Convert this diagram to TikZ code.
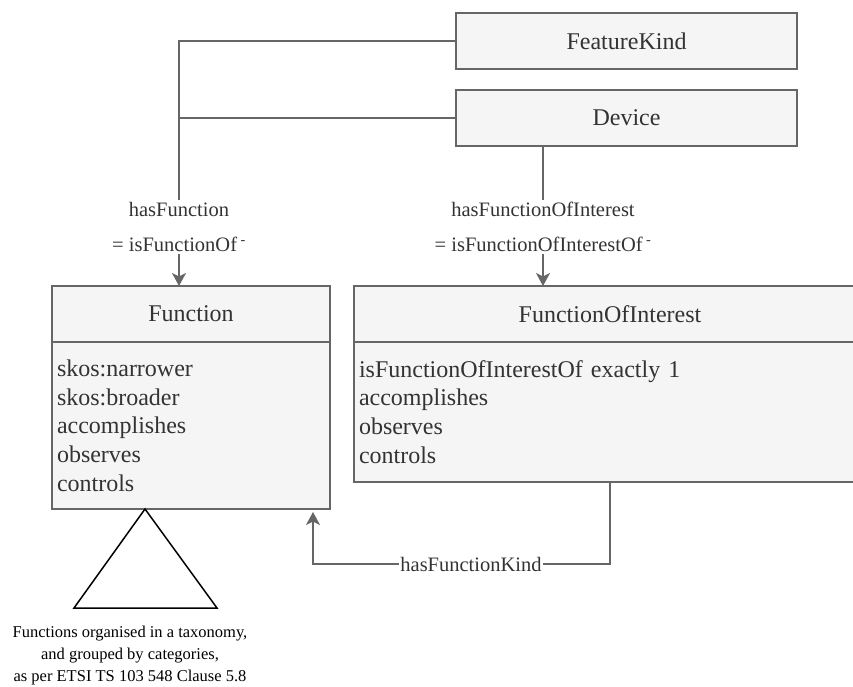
\documentclass[tikz,border=0pt]{standalone}
\usepackage{fontspec}
\setmainfont{Liberation Serif}
\usetikzlibrary{positioning, arrows.meta}

\definecolor{boxfill}{HTML}{F5F5F5}
\definecolor{boxline}{HTML}{666666}
\definecolor{boxtext}{HTML}{333333}

\tikzset{
	classhead/.style={draw=boxline, fill=boxfill, text=boxtext, line width=1.5pt,
		minimum height=56pt, inner sep=0pt, outer sep=0pt,
		font=\fontsize{24}{28.7}\selectfont},
	classbody/.style={draw=boxline, fill=boxfill, text=boxtext, line width=1.5pt,
		align=left, inner sep=4pt, outer sep=0pt,
		font=\fontsize{24}{28.7}\selectfont},
	link/.style={draw=boxline, line width=1.5pt},
	linkarrow/.style={-{Stealth[length=13pt, width=14pt, inset=3.5pt]}},
	linklabel/.style={fill=white, text=boxtext, align=center, inner xsep=1pt, inner ysep=2pt,
		font=\fontsize{20.5}{35}\selectfont},
	taxonomy/.style={draw=black, fill=white, line width=1.5pt, line join=miter}
}

\begin{document}
\begin{tikzpicture}[x=1pt, y=-1pt]
	\useasboundingbox (0,0) rectangle (853,687);
	\clip (0,0) rectangle (853,687);
	% top classes
	\node[classhead, minimum width=341pt] (featurekind) at (626.5,41) {FeatureKind};
	\node[classhead, minimum width=341pt] (device) at (626.5,118) {Device};
	% Function class
	\node[classhead, minimum width=278pt] (function) at (191,314) {Function};
	\node[classbody, minimum width=278pt, minimum height=167pt, text width=268pt, below=0pt of function] (functionbody)
		{skos:narrower\\skos:broader\\accomplishes\\observes\\controls};
	% FunctionOfInterest class (cut off on the right)
	\node[classhead, minimum width=512pt] (foi) at (610,314) {FunctionOfInterest};
	\node[classbody, minimum width=512pt, minimum height=140pt, text width=502pt, below=0pt of foi] (foibody)
		{isFunctionOfInterestOf exactly 1\\accomplishes\\observes\\controls};
	% connector end points
	\coordinate (fnin) at ([xshift=-12pt]function.north);
	\coordinate (devout) at ([xshift=87pt]device.south west);
	\coordinate (kindend) at (313,512);
	% hasFunction
	\draw[link, linkarrow] (featurekind.west) -| (fnin)
		node[linklabel, pos=0.88] {hasFunction\\= isFunctionOf\,\textsuperscript{-}};
	\draw[link] (device.west) -- (device.west -| fnin);
	% hasFunctionOfInterest
	\draw[link, linkarrow] (devout) -- (devout |- foi.north)
		node[linklabel, pos=0.58] {hasFunctionOfInterest\\= isFunctionOfInterestOf\,\textsuperscript{-}};
	% hasFunctionKind
	\draw[link, linkarrow] (foibody.south) -- ++(0,82) -| (kindend)
		node[linklabel, pos=0.234] {hasFunctionKind};
	% taxonomy
	\draw[taxonomy] (145,509) -- (74,608) -- (217,608) -- cycle;
	\node[align=center, font=\fontsize{16.5}{22}\selectfont] (taxonote) at (130,656)
		{Functions organised in a taxonomy,\\and grouped by categories,\\as per ETSI TS 103 548 Clause 5.8};
\end{tikzpicture}
\end{document}
